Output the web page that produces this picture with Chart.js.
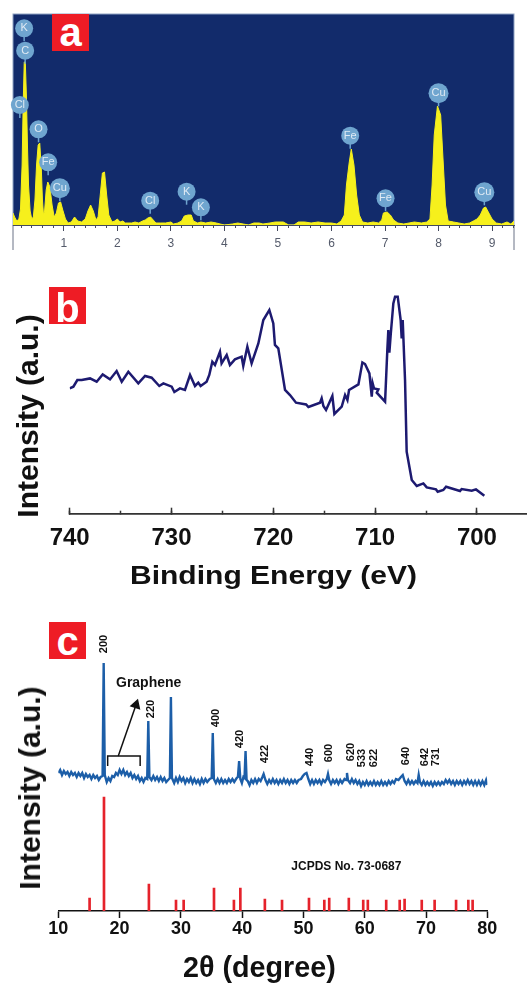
<!DOCTYPE html>
<html>
<head>
<meta charset="utf-8">
<title>EDS, XPS and XRD panels</title>
<script src="https://cdn.jsdelivr.net/npm/chart.js@4"></script>
<style>
  html, body { margin: 0; background: #fff; overflow: hidden; }
  body { position: relative; width: 527px; height: 985px; font-family: "Liberation Sans", Arial, sans-serif; }
  canvas { position: absolute; left: 0; }
  .badge { position: absolute; width: 37px; height: 37px; background: #ee1c25; color: #fff; font-weight: bold; font-size: 40px; text-align: center; z-index: 2; overflow: hidden; }
  .title { position: absolute; white-space: nowrap; font-weight: bold; color: #111; z-index: 2; }
  .ytitle { font-size: 30px; line-height: 30px; transform-origin: center; transform: translate(-50%, -50%) rotate(-90deg); }
</style>
</head>
<body>
<canvas id="eds" width="527" height="260" style="top:0"></canvas>
<canvas id="xps" width="527" height="300" style="top:270px"></canvas>
<canvas id="xrd" width="527" height="355" style="top:630px"></canvas>

<div class="badge" style="left:52px;top:14px;line-height:36px">a</div>
<div class="badge" style="left:49px;top:287px;line-height:42px">b</div>
<div class="badge" style="left:49px;top:622px;line-height:38px">c</div>

<div class="title ytitle" style="left:28px;top:416px">Intensity (a.u.)</div>
<div class="title" style="left:130px;top:560px;font-size:26px;line-height:30px;transform-origin:left center;transform:scaleX(1.155)">Binding Energy (eV)</div>
<div class="title ytitle" style="left:30px;top:788px">Intensity (a.u.)</div>
<div class="title" style="left:183px;top:950px;font-size:29px;line-height:34px;transform-origin:left center;transform:scaleX(0.99)">2θ (degree)</div>

<script>
const FONT = '"Liberation Sans", Arial, sans-serif';

// panel a, EDS spectrum: [keV, height]
const edsSpectrum = [
  [0.05,12],[0.08,8],[0.12,4],[0.16,6],[0.19,16],[0.22,60],[0.24,120],[0.26,163],[0.28,163],[0.30,130],
  [0.32,80],[0.34,40],[0.37,14],[0.40,6],[0.43,8],[0.46,25],[0.49,60],[0.52,80],[0.55,82],[0.58,55],
  [0.60,25],[0.62,10],[0.64,14],[0.67,35],[0.70,43],[0.74,38],[0.78,20],[0.82,8],[0.86,12],[0.90,22],
  [0.94,23],[0.98,15],[1.03,6],[1.08,2],[1.14,3],[1.20,8],[1.26,4],[1.33,3],[1.40,6],[1.45,14],
  [1.50,20],[1.55,14],[1.60,5],[1.64,8],[1.68,30],[1.72,52],[1.76,53],[1.80,30],[1.84,10],[1.90,3],
  [1.95,4],[2.00,6],[2.05,3],[2.10,4],[2.15,2],[2.20,2],[2.27,2],[2.33,3],[2.40,2],[2.47,4],
  [2.52,5],[2.57,7],[2.62,8],[2.67,5],[2.72,2],[2.80,2],[2.90,2],[3.00,3],[3.05,1],[3.13,2],
  [3.20,4],[3.25,9],[3.32,10],[3.38,10],[3.42,4],[3.50,2],[3.56,3],[3.65,2],[3.75,3],[3.85,2],
  [3.92,1],[4.00,0],[4.15,1],[4.25,2],[4.35,1],[4.45,0],[4.55,2],[4.65,2],[4.72,1],[4.85,2],
  [4.95,3],[5.10,3],[5.20,0],[5.30,0],[5.38,3],[5.50,3],[5.62,2],[5.75,3],[5.88,2],[6.00,2],
  [6.10,1],[6.18,4],[6.24,10],[6.28,40],[6.33,62],[6.37,76],[6.42,60],[6.47,30],[6.52,10],[6.58,3],
  [6.68,2],[6.78,3],[6.88,2],[6.94,5],[6.97,12],[7.04,13],[7.10,10],[7.16,5],[7.24,2],[7.35,1],
  [7.45,2],[7.55,3],[7.68,2],[7.78,3],[7.84,6],[7.88,40],[7.92,90],[7.98,119],[8.04,110],[8.08,70],
  [8.13,20],[8.18,4],[8.28,3],[8.38,2],[8.48,1],[8.58,2],[8.65,4],[8.72,6],[8.78,10],[8.84,17],
  [8.88,18],[8.94,12],[9.00,6],[9.08,2],[9.18,1],[9.28,3],[9.35,1],[9.41,4]
];
const edsElements = ['K','C','Cl','O','Fe','Cu','Cl','K','K','Fe','Fe','Cu','Cu'];
const edsElementKev = [0.258,0.277,0.178,0.527,0.707,0.925,2.613,3.293,3.56,6.35,7.01,8.0,8.856];
const edsElementHeight = [196.7,174.3,120,95.7,62.7,36.7,24.3,33.3,17.7,89.3,26.7,131.7,32.7];

// panel b, XPS trace: [binding energy, height]
const xpsTrace = [
  [740,125.3],[739.64,127],[739.25,133.7],[738.82,133.7],[738,135.3],[737.35,132],[736.76,139.3],[736.04,134.3],
  [735.39,142.7],[734.89,132],[734.24,142],[733.26,130.3],[732.6,137.7],[731.95,136],[731.2,127.7],[730.8,130.3],
  [729.98,127],[729.72,121.7],[729.17,125.3],[728.68,123.7],[728.18,138.7],[727.69,127.7],[727.37,131],[727.14,127.7],
  [726.55,132],[726.29,138.7],[725.99,152],[725.73,148.7],[725.24,162],[725.08,150.3],[724.58,158.7],[724.26,148.7],
  [723.77,154.3],[723.11,157],[722.95,147.7],[722.55,167],[722.13,150.3],[721.47,170.3],[720.98,193.7],[720.39,203.7],
  [720,190.3],[719.84,168.7],[719.51,165.3],[718.85,123.7],[718.36,118.7],[717.77,111],[716.78,109.3],[716.55,106.7],
  [715.41,111],[715.25,115.3],[715.08,107.7],[714.82,103.7],[714.2,117.7],[714,99.7],[713.28,107],[712.95,118.7],
  [712.72,113.7],[712.56,123.7],[711.64,129.3],[711.25,151.3],[710.99,149.7],[710.56,140.3],[710.33,117],[710.24,130.3],
  [710.11,125.3],[709.68,124.3],[709.84,121],[709.02,112],[708.8,163.7],[708.7,183.7],[708.6,161],[708.47,178.7],
  [708.21,210.3],[708.04,217],[707.78,217],[707.49,193.7],[707.39,175.3],[707.29,193.7],[707.06,133.7],[706.9,62],
  [706.4,33.7],[705.91,27.7],[705.26,30.3],[704.93,26.3],[704.02,24.3],[703.85,22],[703.3,23.7],[703.03,27],
  [701.66,22.7],[701.5,24.7],[700.51,23],[700.09,24.3],[699.27,18]
];

// panel c, XRD trace: [2theta, height]
const xrdTrace = [
  [10,138],[10.3,141],[10.6,136],[10.9,140],[11.2,137],[11.5,139],[11.8,135],[12.1,139],[12.4,136],[12.7,138],
  [13,134],[13.3,138],[13.6,135],[13.9,138],[14.2,133],[14.5,137],[14.8,134],[15.1,136],[15.4,132],[15.7,136],
  [16,133],[16.3,135],[16.6,131],[16.9,134],[17.22,135],[17.4,248],[17.58,136],[17.9,129],
  [18.2,133],[18.5,130],[18.8,135],[19.1,134],[19.4,138],[19.7,136],[20,141],[20.3,137],[20.6,141],[20.9,136],
  [21.2,139],[21.5,135],[21.8,138],[22.1,133],[22.4,136],[22.7,132],[23,135],[23.3,130],[23.6,133],[23.9,129],
  [24.2,133],[24.5,132],[24.68,190],[24.86,134],[25.2,131],[25.5,135],[25.8,131],[26.1,134],
  [26.4,130],[26.7,134],[27,130],[27.3,133],[27.6,129],[27.9,131],[28.2,133],[28.37,214],[28.54,133],[28.9,128],
  [29.2,133],[29.5,129],[29.8,134],[30.1,130],[30.4,133],[30.7,128],[31,132],[31.3,129],
  [31.6,133],[31.9,128],[32.2,132],[32.5,128],[32.8,131],[33.1,127],[33.4,132],[33.7,128],[34,132],[34.3,129],
  [34.7,132],[35.02,133],[35.2,178],[35.38,132],[35.7,128],[36,132],[36.3,128],[36.6,132],
  [36.9,128],[37.2,131],[37.5,128],[37.8,132],[38.1,129],[38.4,132],[38.7,129],[39.1,133],[39.3,134],[39.5,150],
  [39.7,132],[39.95,128],[40.2,134],[40.38,133],[40.55,160],[40.72,131],[40.9,130],[41.2,126],[41.5,131],[41.8,128],
  [42.1,132],[42.4,128],[42.7,132],[43,130],[43.3,134],[43.5,137],[43.8,131],[44.1,127],[44.4,131],[44.7,128],
  [45,132],[45.3,128],[45.6,131],[45.9,127],[46.2,131],[46.5,128],[46.8,132],[47.1,128],[47.4,131],[47.7,127],
  [48,131],[48.3,128],[48.6,131],[48.9,128],[49.2,131],[49.6,132],[49.9,135],[50.2,137],[50.5,138],[50.8,132],
  [51.1,127],[51.4,131],[51.7,127],[52,131],[52.3,128],[52.6,131],[52.9,127],[53.2,131],[53.5,129],[53.8,132],
  [54,137],[54.2,131],[54.5,127],[54.8,131],[55.1,128],[55.4,131],[55.7,127],[56,131],[56.3,128],[56.7,132],
  [56.95,131],[57.1,138],[57.25,131],[57.6,128],[57.9,132],[58.2,128],[58.5,131],[58.8,127],[59.1,130],[59.4,125],
  [59.7,129],[60,126],[60.3,130],[60.6,126],[60.9,129],[61.2,126],[61.5,130],[61.8,126],[62.1,129],[62.4,126],
  [62.7,130],[63,126],[63.3,129],[63.6,126],[63.9,130],[64.2,127],[64.5,130],[64.8,128],[65.1,132],[65.5,131],
  [65.9,134],[66.2,136],[66.5,130],[66.8,127],[67.1,131],[67.4,127],[67.7,130],[68,127],[68.3,130],[68.6,128],
  [68.8,136],[69,129],[69.3,126],[69.6,130],[69.9,126],[70.2,129],[70.5,126],[70.8,129],[71.1,125],[71.4,129],
  [71.7,126],[72,129],[72.3,126],[72.6,129],[72.9,127],[73.2,131],[73.5,128],[73.8,131],[74.1,127],[74.4,130],
  [74.7,126],[75,130],[75.3,127],[75.6,130],[75.9,126],[76.2,130],[76.5,127],[76.8,131],[77.1,127],[77.4,130],
  [77.7,126],[78,130],[78.3,126],[78.6,130],[78.9,126],[79.2,130],[79.5,126],[79.8,131],[80,126]
];
const jcpdsAngle = [15.1,17.45,24.78,29.2,30.45,35.4,38.65,39.7,43.7,46.5,50.9,53.4,54.2,57.4,59.75,60.5,63.5,65.7,66.5,69.3,71.4,74.9,76.9,77.6];
const jcpdsHeight = [13,114,27,11,11,23,11,23,12,11,13,11,13,13,11,11,11,11,12,11,11,11,11,11];
const hklLabels = ['200','220','400','420','422','440','600','620','533','622','640','642','731'];
const hklAngle = [17.4,25.07,35.7,39.7,43.7,51.05,54.2,57.7,59.5,61.5,66.8,69.8,71.7];
const hklHeight = [267,202,193,172,157,154,158,159,153,153,155,154,154];
const bracketAngle = [18.05,18.05,23.35,23.35];
const bracketHeight = [145,155,155,145];
const arrowAngle = [19.78,22.67];
const arrowHeight = [155,206];

const pairs = list => list.map(p => ({ x: p[0], y: p[1] }));
const zip = (xs, ys) => xs.map((x, i) => ({ x: x, y: ys[i] }));
const hiddenY = (min, max) => ({ display: false, min: min, max: max });

function xAxis(opts) {
  return {
    type: 'linear',
    position: 'bottom',
    offset: false,
    weight: opts.weight || 0,
    reverse: !!opts.reverse,
    min: opts.min,
    max: opts.max,
    afterFit: s => { s.height = opts.height; },
    border: { display: true, color: opts.color, width: opts.lineWidth },
    grid: { offset: false, drawOnChartArea: false, tickLength: opts.tickLength, tickColor: opts.color, tickWidth: opts.lineWidth },
    ticks: {
      stepSize: opts.step,
      includeBounds: false,
      autoSkip: false,
      maxRotation: 0,
      padding: opts.padding || 0,
      color: opts.labelColor || opts.color,
      font: opts.font || { size: 1 },
      callback: opts.labels ? (v => String(Math.round(v))) : (() => '')
    }
  };
}

const edsBackdrop = {
  id: 'edsBackdrop',
  beforeDraw(chart) {
    const { ctx, chartArea: a } = chart;
    ctx.save();
    ctx.fillStyle = '#122b6b';
    ctx.fillRect(a.left, a.top, a.width, a.height);
    ctx.strokeStyle = '#8fa3c4';
    ctx.lineWidth = 1;
    ctx.strokeRect(a.left, a.top, a.width, a.height);
    ctx.strokeStyle = '#6a7286';
    ctx.beginPath();
    ctx.moveTo(a.left, a.bottom); ctx.lineTo(a.left, a.bottom + 25);
    ctx.moveTo(a.right, a.bottom); ctx.lineTo(a.right, a.bottom + 25);
    ctx.stroke();
    ctx.restore();
  }
};

const edsBadges = {
  id: 'edsBadges',
  afterDatasetsDraw(chart) {
    const { ctx, scales } = chart;
    ctx.save();
    edsElements.forEach((name, i) => {
      const x = scales.x.getPixelForValue(edsElementKev[i]);
      const y = scales.y.getPixelForValue(edsElementHeight[i]);
      ctx.strokeStyle = '#6fa5cf';
      ctx.lineWidth = 1.5;
      ctx.beginPath();
      ctx.moveTo(x, y);
      ctx.lineTo(x, y + 13);
      ctx.stroke();
      ctx.fillStyle = '#6fa5cf';
      ctx.beginPath();
      ctx.arc(x, y, name === 'Cu' ? 10 : 9, 0, Math.PI * 2);
      ctx.fill();
      ctx.fillStyle = '#dfeaf4';
      ctx.font = '11px ' + FONT;
      ctx.textAlign = 'center';
      ctx.textBaseline = 'middle';
      ctx.fillText(name, x, y);
    });
    ctx.restore();
  }
};

const xrdText = {
  id: 'xrdText',
  afterDatasetsDraw(chart) {
    const { ctx, scales } = chart;
    ctx.save();
    ctx.fillStyle = '#111';
    ctx.textAlign = 'center';
    ctx.textBaseline = 'middle';
    ctx.font = 'bold 11px ' + FONT;
    hklLabels.forEach((t, i) => {
      ctx.save();
      ctx.translate(scales.x.getPixelForValue(hklAngle[i]), scales.y.getPixelForValue(hklHeight[i]));
      ctx.rotate(-Math.PI / 2);
      ctx.fillText(t, 0, 0);
      ctx.restore();
    });
    ctx.font = 'bold 14px ' + FONT;
    ctx.fillText('Graphene', scales.x.getPixelForValue(24.74), scales.y.getPixelForValue(228));
    ctx.font = 'bold 12px ' + FONT;
    ctx.fillText('JCPDS No. 73-0687', scales.x.getPixelForValue(57), scales.y.getPixelForValue(44));
    ctx.restore();
  }
};

new Chart(document.getElementById('eds'), {
  type: 'line',
  data: {
    datasets: [{
      data: pairs(edsSpectrum),
      borderColor: '#f6f01c',
      backgroundColor: '#f6f01c',
      borderWidth: 1,
      fill: 'origin',
      pointRadius: 0,
      tension: 0
    }]
  },
  options: {
    responsive: false,
    animation: false,
    layout: { padding: { left: 13, right: 13, top: 14, bottom: 0 } },
    plugins: { legend: { display: false }, tooltip: { enabled: false } },
    scales: {
      x: xAxis({ min: 0.05, max: 9.41, step: 1, height: 35, tickLength: 6, color: '#444a5e', lineWidth: 1, padding: 5, labels: true, labelColor: '#555b6b', font: { family: FONT, size: 12 } }),
      x2: xAxis({ min: 0.05, max: 9.41, step: 0.2, height: 0, weight: -1, tickLength: 3, color: '#444a5e', lineWidth: 1 }),
      y: hiddenY(0, 211)
    }
  },
  plugins: [edsBackdrop, edsBadges]
});

new Chart(document.getElementById('xps'), {
  type: 'scatter',
  data: {
    datasets: [{
      data: pairs(xpsTrace),
      showLine: true,
      borderColor: '#1d1a70',
      borderWidth: 2.5,
      pointRadius: 0,
      tension: 0
    }]
  },
  options: {
    responsive: false,
    animation: false,
    layout: { padding: { left: 69.7, right: 0, top: 9.7, bottom: 0 } },
    plugins: { legend: { display: false }, tooltip: { enabled: false } },
    scales: {
      x: xAxis({ reverse: true, min: 695.08, max: 740, step: 10, height: 56.3, tickLength: -6, color: '#333', lineWidth: 1.5, padding: 16, labels: true, labelColor: '#111', font: { family: FONT, size: 24, weight: 'bold' } }),
      x2: xAxis({ reverse: true, min: 695.08, max: 740, step: 5, height: 0, weight: -1, tickLength: -3, color: '#333', lineWidth: 1.5 }),
      y: hiddenY(0, 234)
    }
  }
});

new Chart(document.getElementById('xrd'), {
  data: {
    datasets: [
      { type: 'bar', data: zip(jcpdsAngle, jcpdsHeight), backgroundColor: '#e5222b', barThickness: 2, grouped: false },
      { type: 'scatter', data: pairs(xrdTrace), showLine: true, borderColor: '#1c5ea8', borderWidth: 2.4, pointRadius: 0, tension: 0 },
      { type: 'scatter', data: zip(bracketAngle, bracketHeight), showLine: true, borderColor: '#111', borderWidth: 1.5, pointRadius: 0 },
      { type: 'scatter', data: zip(arrowAngle, arrowHeight), showLine: true, borderColor: '#111', borderWidth: 1.5, pointRadius: [0, 5], pointStyle: 'triangle', rotation: 18, pointBackgroundColor: '#111', pointBorderColor: '#111' }
    ]
  },
  options: {
    responsive: false,
    animation: false,
    layout: { padding: { left: 58.33, right: 39.67, top: 10, bottom: 0 } },
    plugins: { legend: { display: false }, tooltip: { enabled: false } },
    scales: {
      x: xAxis({ min: 10, max: 80, step: 10, height: 74, tickLength: 7, color: '#111', lineWidth: 1.5, padding: 0, labels: true, labelColor: '#111', font: { family: FONT, size: 18, weight: 'bold' } }),
      y: hiddenY(0, 271)
    }
  },
  plugins: [xrdText]
});
</script>
</body>
</html>
